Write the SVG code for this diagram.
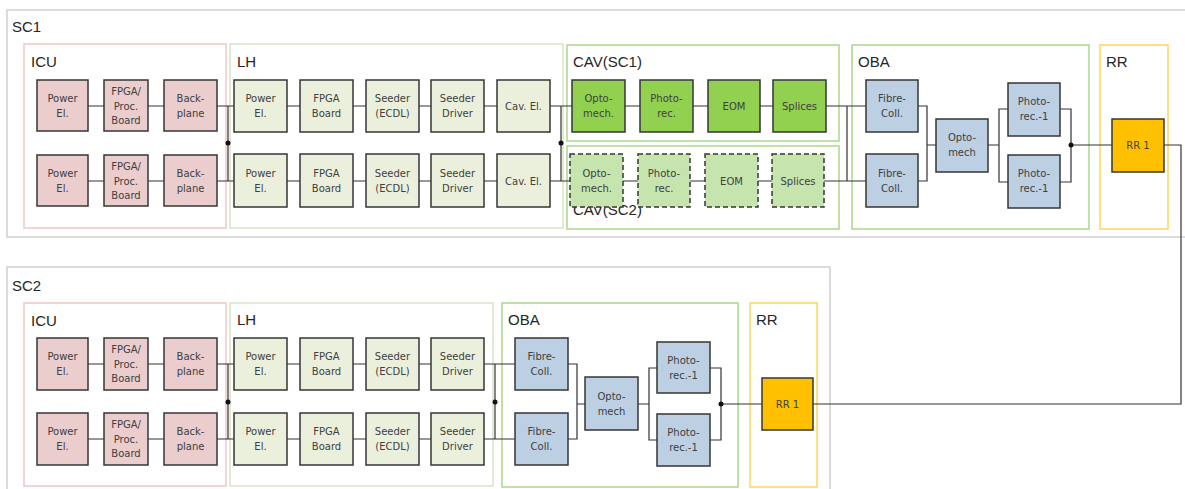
<svg xmlns="http://www.w3.org/2000/svg" width="1185" height="489" viewBox="0 0 1185 489">
<style>
.sc{fill:none;stroke:#cfcfcf;stroke-width:1.5}
.icu{fill:none;stroke:#f0c6c6;stroke-width:1.5}
.lh{fill:none;stroke:#d8e4c4;stroke-width:1.5}
.grn{fill:none;stroke:#a9d88a;stroke-width:1.5}
.rr{fill:none;stroke:#ffd45c;stroke-width:1.5}
.lbl{font-family:"Liberation Sans",Arial,sans-serif;font-size:15px;fill:#262626}
.n rect{stroke:#363636;stroke-width:1.5}
.n text{font-family:"DejaVu Sans",Verdana,sans-serif;font-size:10px;fill:#404040;text-anchor:middle}
.pk rect{fill:#ebcdcd}
.lg rect{fill:#ebf0dd}
.cg rect{fill:#92d050}
.cd rect{fill:#c6e4ae;stroke-dasharray:5 3}
.bl rect{fill:#bdcfe2}
.yo rect{fill:#ffc000}
.c{fill:none;stroke:#333;stroke-width:1.2}
.d{fill:#111}
</style>

<g id="containers">
<rect id="SC1" class="sc" x="7" y="10" width="1190" height="227"/>
<rect id="SC2" class="sc" x="7" y="267" width="823" height="235"/>
<rect class="icu" x="24" y="44" width="202" height="184"/>
<rect class="lh" x="230" y="44" width="333" height="184"/>
<rect class="grn" x="567" y="45" width="272" height="96"/>
<rect class="grn" x="567" y="146" width="272" height="83"/>
<rect class="grn" x="852" y="45" width="237" height="184"/>
<rect class="rr" x="1100" y="45" width="68" height="184"/>
<rect class="icu" x="24" y="303" width="202" height="183"/>
<rect class="lh" x="230" y="303" width="263" height="183"/>
<rect class="grn" x="502" y="303" width="236" height="184"/>
<rect class="rr" x="750" y="303" width="67" height="184"/>
</g>

<g id="labels">
<text class="lbl" x="12" y="32">SC1</text>
<text class="lbl" x="31" y="67">ICU</text>
<text class="lbl" x="237" y="67">LH</text>
<text class="lbl" x="573" y="67">CAV(SC1)</text>
<text class="lbl" x="573" y="215">CAV(SC2)</text>
<text class="lbl" x="858" y="67">OBA</text>
<text class="lbl" x="1106" y="67">RR</text>
<text class="lbl" x="12" y="291">SC2</text>
<text class="lbl" x="31" y="326">ICU</text>
<text class="lbl" x="237" y="325">LH</text>
<text class="lbl" x="508" y="325">OBA</text>
<text class="lbl" x="756" y="325">RR</text>
</g>

<g id="connectors">
<path class="c" d="M88 106H104M148 106H164M217 106H234M287 106H300M353 106H366M419 106H431M484 106H497M550 106H572M625 106H640M693 106H708M760 106H773M826 106H866"/>
<path class="c" d="M88 181H104M148 181H164M217 181H234M287 181H300M353 181H366M419 181H431M484 181H497M550 181H570M623 181H638M690 181H705M758 181H772M824 181H866"/>
<path class="c" d="M228 106V181M561 106V181M847 106V181"/>
<path class="c" d="M918 106H927V181H918M927 145H936M988 145H999M1008 109H999V182H1008M1060 109H1071V182H1060M1071 145H1112"/>
<path class="c" d="M1164 145H1181V404H813"/>
<path class="c" d="M88 364H104M148 364H164M217 364H234M287 364H300M353 364H366M419 364H431M484 364H515"/>
<path class="c" d="M88 439H104M148 439H164M217 439H234M287 439H300M353 439H366M419 439H431M484 439H515"/>
<path class="c" d="M228 364V439M495 364V439"/>
<path class="c" d="M568 364H577V439H568M577 404H585M638 404H649M657 368H649V440H657M710 368H721V440H710M721 404H762"/>
<circle class="d" cx="228" cy="143" r="2.5"/>
<circle class="d" cx="561" cy="143" r="2.5"/>
<circle class="d" cx="1071" cy="145" r="2.5"/>
<circle class="d" cx="228" cy="402" r="2.5"/>
<circle class="d" cx="495" cy="402" r="2.5"/>
<circle class="d" cx="721" cy="404" r="2.5"/>
</g>

<!-- SC1 ICU -->
<g id="sc1-icu-pwr1" class="n pk"><rect x="37" y="80" width="51" height="51"/><text x="62.5" y="102">Power</text><text x="62.5" y="117">El.</text></g>
<g id="sc1-icu-fpga1" class="n pk"><rect x="104" y="80" width="44" height="51"/><text x="126" y="95">FPGA/</text><text x="126" y="110">Proc.</text><text x="126" y="124">Board</text></g>
<g id="sc1-icu-bp1" class="n pk"><rect x="164" y="80" width="53" height="51"/><text x="190.5" y="102">Back-</text><text x="190.5" y="117">plane</text></g>
<g id="sc1-icu-pwr2" class="n pk"><rect x="37" y="155" width="51" height="51"/><text x="62.5" y="177">Power</text><text x="62.5" y="192">El.</text></g>
<g id="sc1-icu-fpga2" class="n pk"><rect x="104" y="155" width="44" height="51"/><text x="126" y="170">FPGA/</text><text x="126" y="185">Proc.</text><text x="126" y="199">Board</text></g>
<g id="sc1-icu-bp2" class="n pk"><rect x="164" y="155" width="53" height="51"/><text x="190.5" y="177">Back-</text><text x="190.5" y="192">plane</text></g>

<!-- SC1 LH -->
<g id="sc1-lh-pwr1" class="n lg"><rect x="234" y="80" width="53" height="52"/><text x="260.5" y="102">Power</text><text x="260.5" y="117">El.</text></g>
<g id="sc1-lh-fpga1" class="n lg"><rect x="300" y="80" width="53" height="52"/><text x="326.5" y="102">FPGA</text><text x="326.5" y="117">Board</text></g>
<g id="sc1-lh-seed1" class="n lg"><rect x="366" y="80" width="53" height="52"/><text x="392.5" y="102">Seeder</text><text x="392.5" y="117">(ECDL)</text></g>
<g id="sc1-lh-drv1" class="n lg"><rect x="431" y="80" width="53" height="52"/><text x="457.5" y="102">Seeder</text><text x="457.5" y="117">Driver</text></g>
<g id="sc1-lh-cav1" class="n lg"><rect x="497" y="80" width="53" height="52"/><text x="523.5" y="110">Cav. El.</text></g>
<g id="sc1-lh-pwr2" class="n lg"><rect x="234" y="154" width="53" height="53"/><text x="260.5" y="177">Power</text><text x="260.5" y="192">El.</text></g>
<g id="sc1-lh-fpga2" class="n lg"><rect x="300" y="154" width="53" height="53"/><text x="326.5" y="177">FPGA</text><text x="326.5" y="192">Board</text></g>
<g id="sc1-lh-seed2" class="n lg"><rect x="366" y="154" width="53" height="53"/><text x="392.5" y="177">Seeder</text><text x="392.5" y="192">(ECDL)</text></g>
<g id="sc1-lh-drv2" class="n lg"><rect x="431" y="154" width="53" height="53"/><text x="457.5" y="177">Seeder</text><text x="457.5" y="192">Driver</text></g>
<g id="sc1-lh-cav2" class="n lg"><rect x="497" y="154" width="53" height="53"/><text x="523.5" y="185">Cav. El.</text></g>

<!-- CAV -->
<g id="cav1-opto" class="n cg"><rect x="572" y="80" width="53" height="52"/><text x="598.5" y="102">Opto-</text><text x="598.5" y="117">mech.</text></g>
<g id="cav1-photo" class="n cg"><rect x="640" y="80" width="53" height="52"/><text x="666.5" y="102">Photo-</text><text x="666.5" y="117">rec.</text></g>
<g id="cav1-eom" class="n cg"><rect x="708" y="80" width="52" height="52"/><text x="734" y="110">EOM</text></g>
<g id="cav1-spl" class="n cg"><rect x="773" y="80" width="53" height="52"/><text x="799.5" y="110">Splices</text></g>
<g id="cav2-opto" class="n cd"><rect x="570" y="154" width="53" height="53"/><text x="596.5" y="177">Opto-</text><text x="596.5" y="192">mech.</text></g>
<g id="cav2-photo" class="n cd"><rect x="638" y="154" width="52" height="53"/><text x="664" y="177">Photo-</text><text x="664" y="192">rec.</text></g>
<g id="cav2-eom" class="n cd"><rect x="705" y="154" width="53" height="53"/><text x="731.5" y="185">EOM</text></g>
<g id="cav2-spl" class="n cd"><rect x="772" y="154" width="52" height="53"/><text x="798" y="185">Splices</text></g>

<!-- SC1 OBA -->
<g id="sc1-oba-fc1" class="n bl"><rect x="866" y="80" width="52" height="52"/><text x="892" y="102">Fibre-</text><text x="892" y="117">Coll.</text></g>
<g id="sc1-oba-fc2" class="n bl"><rect x="866" y="154" width="52" height="53"/><text x="892" y="177">Fibre-</text><text x="892" y="192">Coll.</text></g>
<g id="sc1-oba-opto" class="n bl"><rect x="936" y="119" width="52" height="53"/><text x="962" y="141">Opto-</text><text x="962" y="156">mech</text></g>
<g id="sc1-oba-pr1" class="n bl"><rect x="1008" y="83" width="52" height="53"/><text x="1034" y="105">Photo-</text><text x="1034" y="120">rec.-1</text></g>
<g id="sc1-oba-pr2" class="n bl"><rect x="1008" y="155" width="52" height="53"/><text x="1034" y="177">Photo-</text><text x="1034" y="192">rec.-1</text></g>
<g id="sc1-rr1" class="n yo"><rect x="1112" y="119" width="52" height="53"/><text x="1138" y="149">RR 1</text></g>

<!-- SC2 ICU -->
<g id="sc2-icu-pwr1" class="n pk"><rect x="37" y="338" width="51" height="52"/><text x="62.5" y="360">Power</text><text x="62.5" y="375">El.</text></g>
<g id="sc2-icu-fpga1" class="n pk"><rect x="104" y="338" width="44" height="52"/><text x="126" y="353">FPGA/</text><text x="126" y="368">Proc.</text><text x="126" y="382">Board</text></g>
<g id="sc2-icu-bp1" class="n pk"><rect x="164" y="338" width="53" height="52"/><text x="190.5" y="360">Back-</text><text x="190.5" y="375">plane</text></g>
<g id="sc2-icu-pwr2" class="n pk"><rect x="37" y="413" width="51" height="52"/><text x="62.5" y="435">Power</text><text x="62.5" y="450">El.</text></g>
<g id="sc2-icu-fpga2" class="n pk"><rect x="104" y="413" width="44" height="52"/><text x="126" y="428">FPGA/</text><text x="126" y="443">Proc.</text><text x="126" y="457">Board</text></g>
<g id="sc2-icu-bp2" class="n pk"><rect x="164" y="413" width="53" height="52"/><text x="190.5" y="435">Back-</text><text x="190.5" y="450">plane</text></g>

<!-- SC2 LH -->
<g id="sc2-lh-pwr1" class="n lg"><rect x="234" y="338" width="53" height="52"/><text x="260.5" y="360">Power</text><text x="260.5" y="375">El.</text></g>
<g id="sc2-lh-fpga1" class="n lg"><rect x="300" y="338" width="53" height="52"/><text x="326.5" y="360">FPGA</text><text x="326.5" y="375">Board</text></g>
<g id="sc2-lh-seed1" class="n lg"><rect x="366" y="338" width="53" height="52"/><text x="392.5" y="360">Seeder</text><text x="392.5" y="375">(ECDL)</text></g>
<g id="sc2-lh-drv1" class="n lg"><rect x="431" y="338" width="53" height="52"/><text x="457.5" y="360">Seeder</text><text x="457.5" y="375">Driver</text></g>
<g id="sc2-lh-pwr2" class="n lg"><rect x="234" y="413" width="53" height="52"/><text x="260.5" y="435">Power</text><text x="260.5" y="450">El.</text></g>
<g id="sc2-lh-fpga2" class="n lg"><rect x="300" y="413" width="53" height="52"/><text x="326.5" y="435">FPGA</text><text x="326.5" y="450">Board</text></g>
<g id="sc2-lh-seed2" class="n lg"><rect x="366" y="413" width="53" height="52"/><text x="392.5" y="435">Seeder</text><text x="392.5" y="450">(ECDL)</text></g>
<g id="sc2-lh-drv2" class="n lg"><rect x="431" y="413" width="53" height="52"/><text x="457.5" y="435">Seeder</text><text x="457.5" y="450">Driver</text></g>

<!-- SC2 OBA -->
<g id="sc2-oba-fc1" class="n bl"><rect x="515" y="338" width="53" height="52"/><text x="541.5" y="360">Fibre-</text><text x="541.5" y="375">Coll.</text></g>
<g id="sc2-oba-fc2" class="n bl"><rect x="515" y="413" width="53" height="52"/><text x="541.5" y="435">Fibre-</text><text x="541.5" y="450">Coll.</text></g>
<g id="sc2-oba-opto" class="n bl"><rect x="585" y="377" width="53" height="53"/><text x="611.5" y="400">Opto-</text><text x="611.5" y="415">mech</text></g>
<g id="sc2-oba-pr1" class="n bl"><rect x="657" y="342" width="53" height="51"/><text x="683.5" y="364">Photo-</text><text x="683.5" y="379">rec.-1</text></g>
<g id="sc2-oba-pr2" class="n bl"><rect x="657" y="414" width="53" height="52"/><text x="683.5" y="436">Photo-</text><text x="683.5" y="451">rec.-1</text></g>
<g id="sc2-rr1" class="n yo"><rect x="762" y="378" width="51" height="52"/><text x="787.5" y="408">RR 1</text></g>
</svg>
